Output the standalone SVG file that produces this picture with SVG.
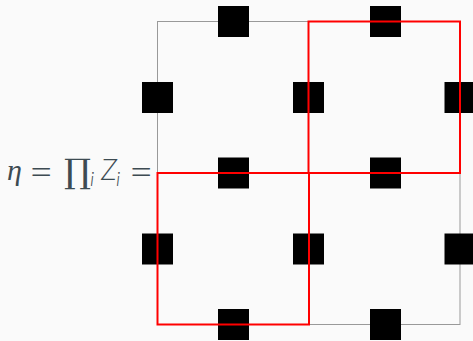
<svg xmlns="http://www.w3.org/2000/svg" width="473" height="341" viewBox="0 0 473 341">
<style>
.grid{fill:none;stroke:#999;stroke-width:1}
.q{fill:#000}
.red{fill:none;stroke:#ff0000;stroke-width:2}
.m{font-family:"Lato","Open Sans",sans-serif;font-size:29px;font-weight:300;fill:#3d4b52}
.eq{font-size:42px}
.eta{font-family:"Liberation Serif",serif;font-style:italic;font-size:30px}
.prod{font-family:"DejaVu Serif",serif;font-size:34px}
.it{font-style:italic}
.sub{font-size:20px;font-style:italic}
</style>
<rect width="473" height="341" fill="#fafafa"/>
<g id="lattice">
<rect class="grid" x="157.5" y="21.5" width="302.5" height="303"/>
</g>
<g id="qubits">
<rect class="q" x="218" y="6" width="31" height="31"/>
<rect class="q" x="370" y="6" width="31" height="31"/>
<rect class="q" x="218" y="157.5" width="31" height="31"/>
<rect class="q" x="370" y="157.5" width="31" height="31"/>
<rect class="q" x="218" y="309" width="31" height="31"/>
<rect class="q" x="370" y="309" width="31" height="31"/>
<rect class="q" x="142" y="82" width="31" height="31"/>
<rect class="q" x="142" y="233.5" width="31" height="31"/>
<rect class="q" x="293" y="82" width="31" height="31"/>
<rect class="q" x="293" y="233.5" width="31" height="31"/>
<rect class="q" x="444.5" y="82" width="31" height="31"/>
<rect class="q" x="444.5" y="233.5" width="31" height="31"/>
</g>
<g id="connectors">
<rect class="red" x="308.5" y="21.5" width="151.5" height="151.5"/>
<rect class="red" x="157.5" y="173" width="151.5" height="151.5"/>
</g>
<g id="label" class="m">
<text class="eta" x="7" y="180">η</text>
<text class="eq" x="29" y="186">=</text>
<text class="prod" x="64" y="183">∏</text>
<text class="sub" x="90" y="186">i</text>
<text class="it" x="101" y="180">Z</text>
<text class="sub" x="116" y="186">i</text>
<text class="eq" x="129" y="186">=</text>
</g>
</svg>
